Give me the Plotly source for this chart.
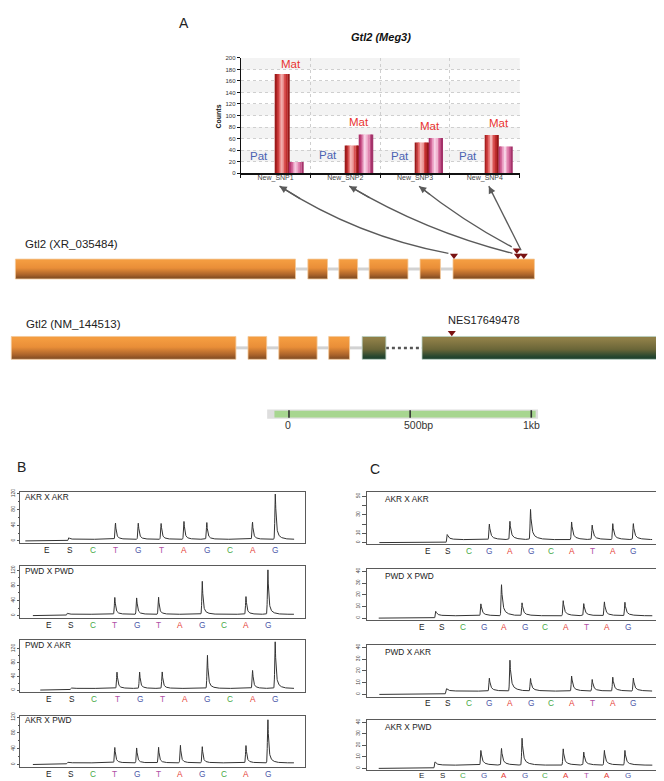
import numpy as np
import plotly.graph_objects as go

W, H = 664, 781
FONT = "Liberation Sans, Arial, sans-serif"

# ------------------------------------------------------------------ DATA
# Panel A - allele counts per SNP
snp_names = ["New_SNP1", "New_SNP2", "New_SNP3", "New_SNP4"]
mat_red = [172, 48, 53, 66]
mat_pink = [19, 67, 61, 46]
count_ticks = list(range(0, 201, 20))

# Gene models (bp, common frame)
xr_exons_bp = [[17, 1173], [1224, 1305], [1352, 1429], [1477, 1637], [1687, 1771], [1823, 2159]]
nm_exons_bp = [[0, 927], [977, 1054], [1104, 1262], [1310, 1396]]
nm_exons2_bp = [[1448, 1546], [1695, 2719]]
snp_bp = [1827, 2091, 2086, 2115]
snp_level = [0, 0, 1, 0]
nes_bp = [1818]
nes_name = "NES17649478"
scale_start_bp = 1146
scale_ticks_bp = [0, 500, 1000]
scale_tick_text = ["0", "500bp", "1kb"]

# Pyrograms
b_disp = ["E", "S", "C", "T", "G", "T", "A", "G", "C", "A", "G"]
c_disp = ["E", "S", "C", "G", "A", "G", "C", "A", "T", "A", "G"]
cross_titles = ["AKR X AKR", "PWD X PWD", "PWD X AKR", "AKR X PWD"]
b_peaks = [
    [0, 10, 0, 45.7, 46, 45, 50, 47, 0, 48, 122],
    [0, 8, 0, 48.6, 47.7, 48.6, 0, 91, 0, 51, 123.6],
    [0, 7.7, 0, 52.8, 52.8, 52.8, 0, 100.9, 0, 57.6, 141],
    [0, 7.6, 0, 43.7, 42.8, 43.7, 48.7, 45.3, 0, 48.7, 115.9],
]
b_base = [4.2, 3.5, 4.8, 4.2]
b_span = [[0.05, 11.82], [0.25, 12.19], [0.6, 11.83], [0.25, 12.19]]
b_s_pos = [1.95, 1.82, 1.95, 1.82]
b_ticks = [0, 40, 80, 120]
b_minor = [20, 60, 100]

c_peaks = [
    [0, 10.4, 0, 20, 22.9, 36, 0, 22.5, 18.9, 20.4, 20.4],
    [0, 6.8, 0, 12.4, 28.5, 13, 0, 14.9, 12.4, 14.1, 13.5],
    [0, 6.2, 0, 13.8, 29, 13.5, 0, 15.8, 12.7, 14.6, 13.8],
    [0, 7, 0, 15.8, 17.2, 26.2, 0, 16.9, 14.1, 15.8, 15.5],
]
c_base = [3.2, 2.0, 2.8, 2.8]
c_span = [[-1.35, 11.91], [-1.1, 12.2], [-1.35, 11.91], [-1.1, 12.2]]
c_s_pos = [1.95, 1.67, 1.9, 1.63]
c_shift = [0, -0.13, 0, -0.13]
c_ticks = [[0, 10, 20, 30, 40, 50], [0, 10, 20, 30, 40], [0, 10, 20, 30, 40], [0, 10, 20, 30, 40]]
c_ticktext = [["0", "10", "", "30", "", "50"], ["0", "10", "20", "30", "40"],
              ["0", "10", "20", "30", "40"], ["0", "10", "20", "30", "40"]]

# ------------------------------------------------------------------ LAYOUT CONSTANTS
GENE_X0 = 3.3
PX_PER_BP = 0.2423


def px2bp(p):
    return (p - GENE_X0) / PX_PER_BP


def bp2px(b):
    return GENE_X0 + b * PX_PER_BP


def dx(a, b):
    return [a / W, b / W]


def dy(top, bottom):
    return [1 - bottom / H, 1 - top / H]


def px_x(p):
    return p / W


def px_y(p):
    return 1 - p / H


BAR_X = (232.7, 511.7)
BAR_Y = (47.3, 163.3)
G1_Y = (250, 270)
G2_Y = (328, 351)

B_X = (12.3, 297.3)
B_Y = [(484.7, 536.3), (559.3, 611.7), (634.3, 686.7), (710, 761.7)]
B_XR = [[-0.17, 12.31], [-0.326, 12.71], [-0.283, 12.33], [-0.326, 12.71]]
B_YR = [[-5.8, 125], [-6.4, 131.3], [-6.9, 144.2], [-6, 124.3]]

C_X = (359, 655)
C_Y = [(485, 537.3), (562.2, 613.8), (639, 691), (714.5, 765.2)]
C_XR = [[-1.95, 12.44], [-1.67, 12.72], [-1.95, 12.44], [-1.67, 12.72]]
C_YR = [[-1.7, 54.3], [-1.7, 42.1], [-1.94, 41.9], [-1.68, 41.9]]
C_LETTER_DY = [6.6, 6.6, 6.6, 5.6]

LETTER_COLORS = {"E": "#222222", "S": "#222222", "C": "#45a845",
                 "T": "#b050a5", "G": "#4b58a8", "A": "#e53a35"}

fig = go.Figure()
annotations = []
shapes = []


def paper_text(px, py, text, size, color="#222", xanchor="center", **kw):
    d = dict(x=px_x(px), y=px_y(py), xref="paper", yref="paper", text=text, showarrow=False,
             xanchor=xanchor, yanchor="middle", font=dict(family=FONT, size=size, color=color))
    d.update(kw)
    annotations.append(d)


# ------------------------------------------------------------------ PANEL A bar chart
red_strips = ['#9c1a1a', '#c33232', '#e26666', '#f4b4b4', '#ee9c9c', '#da5252', '#c02e2e', '#961818']
pink_strips = ['#b0306a', '#cd5a8e', '#e999bf', '#f8d3e6', '#f2b7d3', '#e186b1', '#ca5a90', '#a4336a']
GW = 0.2
ns = len(red_strips)
for series, colors, base_off in [(mat_red, red_strips, 0.0), (mat_pink, pink_strips, GW)]:
    for k, c in enumerate(colors):
        fig.add_trace(go.Bar(
            x=snp_names, y=series, xaxis="x2", yaxis="y2",
            offset=base_off + k * GW / ns, width=GW / ns * 1.02,
            marker=dict(color=c, line=dict(width=0)), hoverinfo="skip"))

for k in range(0, 10, 2):
    shapes.append(dict(type="rect", xref="x2 domain", yref="y2", x0=0, x1=1,
                       y0=count_ticks[k + 1], y1=count_ticks[k + 2] if k + 2 < len(count_ticks) else 200,
                       fillcolor="#f3f3f3", line=dict(width=0), layer="below"))

mat_pos = [(0.22, 190), (1.2, 88), (2.215, 81), (3.2, 87)]
pat_pos = [(-0.24, 30), (0.75, 31.5), (1.79, 30), (2.76, 30)]
for (mx, my), (px_, py_) in zip(mat_pos, pat_pos):
    annotations.append(dict(x=mx, y=my, xref="x2", yref="y2", text="Mat", showarrow=False,
                            xanchor="center", yanchor="middle",
                            font=dict(family=FONT, size=11.5, color="#e8332f")))
    annotations.append(dict(x=px_, y=py_, xref="x2", yref="y2", text="Pat", showarrow=False,
                            xanchor="center", yanchor="middle",
                            font=dict(family=FONT, size=11.5, color="#4a62b2")))

paper_text(372.7, 26, "<b><i>Gtl2 (Meg3)</i></b>", 11, "#111")
paper_text(210.7, 106.7, "<b>Counts</b>", 7, "#111", textangle=-90)

# ------------------------------------------------------------------ gene models (canvas)
def rect_poly(exons, y0, y1):
    xs, ys = [], []
    for a, b in exons:
        xs += [a, b, b, a, a, None]
        ys += [y0, y0, y1, y1, y0, None]
    return xs, ys


def intron_lines(exons, yc):
    xs, ys = [], []
    for (a0, b0), (a1, b1) in zip(exons[:-1], exons[1:]):
        xs += [b0, a1, None]
        ys += [yc, yc, None]
    return xs, ys


orange_cs = [[0, "#f49c40"], [0.35, "#e98e38"], [0.7, "#a9622a"], [1, "#5c391d"]]
green_cs = [[0, "#8f7f48"], [0.45, "#6a6638"], [0.75, "#284830"], [1, "#083326"]]

g1c = (G1_Y[0] + G1_Y[1]) / 2
g2c = (G2_Y[0] + G2_Y[1]) / 2
ix, iy = intron_lines(xr_exons_bp, g1c)
fig.add_trace(go.Scatter(x=ix, y=iy, mode="lines", line=dict(color="#d2d2d2", width=3),
                         hoverinfo="skip"))
ix, iy = intron_lines(nm_exons_bp + nm_exons2_bp[:1], g2c)
fig.add_trace(go.Scatter(x=ix, y=iy, mode="lines", line=dict(color="#d2d2d2", width=3),
                         hoverinfo="skip"))
ix, iy = intron_lines(nm_exons2_bp, g2c)
fig.add_trace(go.Scatter(x=ix, y=iy, mode="lines", line=dict(color="#555555", width=2.5, dash="dot"),
                         hoverinfo="skip"))

for exons, (y0, y1), cs, lc in [(xr_exons_bp, G1_Y, orange_cs, "#f2c898"),
                                (nm_exons_bp, G2_Y, orange_cs, "#f2c898"),
                                (nm_exons2_bp, G2_Y, green_cs, "#b8d0c4")]:
    xs, ys = rect_poly(exons, y0, y1)
    fig.add_trace(go.Scatter(x=xs, y=ys, mode="lines", fill="toself",
                             line=dict(color=lc, width=0.8),
                             fillgradient=dict(type="vertical", start=y0, stop=y1, colorscale=cs),
                             hoverinfo="skip"))

snp_y = [G1_Y[0] - 3.5 - 5.5 * lv for lv in snp_level]
fig.add_trace(go.Scatter(x=snp_bp, y=snp_y, mode="markers",
                         marker=dict(symbol="triangle-down", size=7, color="#7a1212"),
                         hoverinfo="skip"))
fig.add_trace(go.Scatter(x=nes_bp, y=[G2_Y[0] - 3.8], mode="markers",
                         marker=dict(symbol="triangle-down", size=7, color="#7a1212"),
                         hoverinfo="skip"))

paper_text(15, 235, "Gtl2 (XR_035484)", 11.5, xanchor="left")
paper_text(16, 315, "Gtl2 (NM_144513)", 11.5, xanchor="left")
annotations.append(dict(x=nes_bp[0], y=311, xref="x", yref="y", xshift=32,
                        xanchor="center", yanchor="middle",
                        text=nes_name, showarrow=False,
                        font=dict(family=FONT, size=11, color="#222")))

# arrows from SNP markers to bar categories
cat_w = (BAR_X[1] - BAR_X[0]) / len(snp_names)
sags = [18, 13, 5, 0]
for i in range(len(snp_names)):
    mx, my = bp2px(snp_bp[i]), snp_y[i]
    hx, hy = BAR_X[0] + (i + 0.5) * cat_w + 4, 176.5
    d = np.array([hx - mx, hy - my])
    u = d / np.linalg.norm(d)
    tx, ty = mx + 6 * u[0], my + 6 * u[1]
    mid = np.array([(tx + hx) / 2, (ty + hy) / 2])
    perp = np.array([u[1], -u[0]])
    cx, cy = mid + sags[i] * perp
    shapes.append(dict(type="path", xref="x", yref="y",
                       path=f"M {px2bp(tx)},{ty} Q {px2bp(cx)},{cy} {px2bp(hx)},{hy}",
                       line=dict(color="#5a5a5a", width=1.3), layer="above"))
    t = 0.86
    bx = (1 - t) ** 2 * tx + 2 * (1 - t) * t * cx + t ** 2 * hx
    by = (1 - t) ** 2 * ty + 2 * (1 - t) * t * cy + t ** 2 * hy
    annotations.append(dict(x=px2bp(hx), y=hy, ax=px2bp(bx), ay=by, xref="x", yref="y",
                            axref="x", ayref="y", text="", showarrow=True, arrowhead=2,
                            arrowsize=1.1, arrowwidth=1.3, arrowcolor="#5a5a5a", standoff=0))

# scale bar
sb0 = scale_start_bp + scale_ticks_bp[0]
sb1 = scale_start_bp + scale_ticks_bp[-1]
shapes.append(dict(type="rect", xref="x", yref="y", x0=sb0 - 90, x1=sb1 + 28, y0=401.5, y1=411,
                   fillcolor="#dedede", line=dict(width=0), layer="below"))
shapes.append(dict(type="rect", xref="x", yref="y", x0=sb0 - 60, x1=sb1 + 18, y0=402.8, y1=409.6,
                   fillcolor="#a7d690", line=dict(width=0), layer="below"))
tx_, ty_ = [], []
for t in scale_ticks_bp:
    tx_ += [scale_start_bp + t, scale_start_bp + t, None]
    ty_ += [402.3, 409.8, None]
fig.add_trace(go.Scatter(x=tx_, y=ty_, mode="lines", line=dict(color="#333", width=1.6),
                         hoverinfo="skip"))
lab_shift = [-1, 8, 0]
for t, s, sh in zip(scale_ticks_bp, scale_tick_text, lab_shift):
    annotations.append(dict(x=scale_start_bp + t, y=417.5, xref="x", yref="y", xshift=sh,
                            xanchor="center", yanchor="middle",
                            text=s, showarrow=False, font=dict(family=FONT, size=10.5, color="#333")))

# ------------------------------------------------------------------ pyrograms
def peak_shape(t, tau1, tau2, w2):
    tp = np.clip(t, 0, None)
    fall = (1 - w2) * np.exp(-tp / tau1) + w2 * np.exp(-tp / tau2)
    rise = np.exp(-(np.clip(t, None, 0) / 0.03) ** 2)
    return np.where(t < 0, rise, fall)


def pyro_curve(peaks, base, span, s_pos, shift, tau1, tau2, w2):
    x = np.linspace(span[0], span[1], 2200)
    ts = x - s_pos
    step = 1.0 / (1.0 + np.exp(-np.clip(ts / 0.012, -50, 50)))
    y = base * step + (peaks[1] - base) * peak_shape(ts, tau1, tau2, w2)
    for i, h in enumerate(peaks):
        if i >= 2 and h > 0:
            y = y + (h - base) * peak_shape(x - (i + 1 + shift), tau1, tau2, w2)
    return x, y


layout_axes = {}


def add_pyro(n, disp, peaks, base, span, s_pos, shift, shp, xdom, ydom, xr, yr,
             tickv, tickt, minor, title, title_dx, title_dy, ticklen, letter_dy, letter_size):
    x, y = pyro_curve(peaks, base, span, s_pos, shift, *shp)
    fig.add_trace(go.Scatter(x=x, y=y, mode="lines", xaxis=f"x{n}", yaxis=f"y{n}",
                             line=dict(color="#333333", width=1), hoverinfo="skip"))
    layout_axes[f"xaxis{n}"] = dict(domain=dx(*xdom), range=xr, anchor=f"y{n}",
                                    showline=True, mirror=True, linecolor="#5a5a5a", linewidth=1,
                                    showgrid=False, zeroline=False, ticks="",
                                    showticklabels=False, fixedrange=True)
    yd = dict(domain=dy(*ydom), range=yr, anchor=f"x{n}", showline=True, mirror=True,
              linecolor="#5a5a5a", linewidth=1, showgrid=False, zeroline=False,
              ticks="outside", ticklen=ticklen, tickwidth=0.8, tickcolor="#555",
              tickvals=tickv, ticktext=tickt, tickangle=-90,
              tickfont=dict(family=FONT, size=5, color="#444"), fixedrange=True)
    if minor:
        yd["minor"] = dict(tickvals=minor, ticks="outside", ticklen=ticklen * 0.7,
                           tickcolor="#555", tickwidth=0.8)
    layout_axes[f"yaxis{n}"] = yd
    for j, L in enumerate(disp):
        annotations.append(dict(x=j + 1, y=px_y(ydom[1] + letter_dy), xref=f"x{n}", yref="paper",
                                text=L, showarrow=False, borderpad=0,
                                xanchor="center", yanchor="middle",
                                font=dict(family=FONT, size=letter_size, color=LETTER_COLORS[L])))
    paper_text(xdom[0] + title_dx, ydom[0] + title_dy, title, 8.3, xanchor="left")


for k in range(4):
    add_pyro(3 + k, b_disp, b_peaks[k], b_base[k], b_span[k], b_s_pos[k], 0.0, (0.035, 0.16, 0.2),
             B_X, B_Y[k], B_XR[k], B_YR[k], b_ticks, [str(v) for v in b_ticks], b_minor,
             cross_titles[k], 2.7, 4.8, 2.5, 7.0, 8.3)
for k in range(4):
    add_pyro(7 + k, c_disp, c_peaks[k], c_base[k], c_span[k], c_s_pos[k], c_shift[k], (0.05, 0.25, 0.25),
             C_X, C_Y[k], C_XR[k], C_YR[k], c_ticks[k], c_ticktext[k], None,
             cross_titles[k], 15.7, 6.7, 4, C_LETTER_DY[k], 8.0 if k == 3 else 8.3)

# panel letters
for lab, (lx, ly) in zip(["A", "B", "C"], [(176, 12), (14, 460), (367, 462)]):
    paper_text(lx, ly, lab, 14)

# ------------------------------------------------------------------ layout
fig.update_layout(
    width=W, height=H, autosize=False, margin=dict(l=0, r=0, t=0, b=0, pad=0),
    paper_bgcolor="white", plot_bgcolor="rgba(0,0,0,0)", showlegend=False,
    barmode="overlay", hovermode=False, font=dict(family=FONT),
    xaxis=dict(domain=[0, 1], range=[px2bp(0), px2bp(W)], visible=False, fixedrange=True),
    yaxis=dict(domain=[0, 1], range=[H, 0], visible=False, fixedrange=True),
    xaxis2=dict(domain=dx(*BAR_X), anchor="y2", type="category", categoryorder="array",
                categoryarray=snp_names, range=[-0.5, 3.5], tickson="boundaries",
                ticks="outside", ticklen=3, tickcolor="#111", showline=True, linecolor="#111",
                linewidth=1.5, showgrid=True, gridcolor="#cfcfcf", griddash="dot", gridwidth=1,
                tickfont=dict(family=FONT, size=7, color="#444"), ticklabelstandoff=-3,
                fixedrange=True),
    yaxis2=dict(domain=dy(*BAR_Y), anchor="x2", range=[0, 200], tickvals=count_ticks,
                ticks="outside", ticklen=3, tickcolor="#111", showline=True, linecolor="#111",
                linewidth=1, showgrid=True, gridcolor="#cfcfcf", griddash="dot", gridwidth=1,
                zeroline=False, tickfont=dict(family=FONT, size=6, color="#333"), fixedrange=True),
    annotations=annotations, shapes=shapes,
)
fig.update_layout(**layout_axes)

fig.write_html("out.html")
